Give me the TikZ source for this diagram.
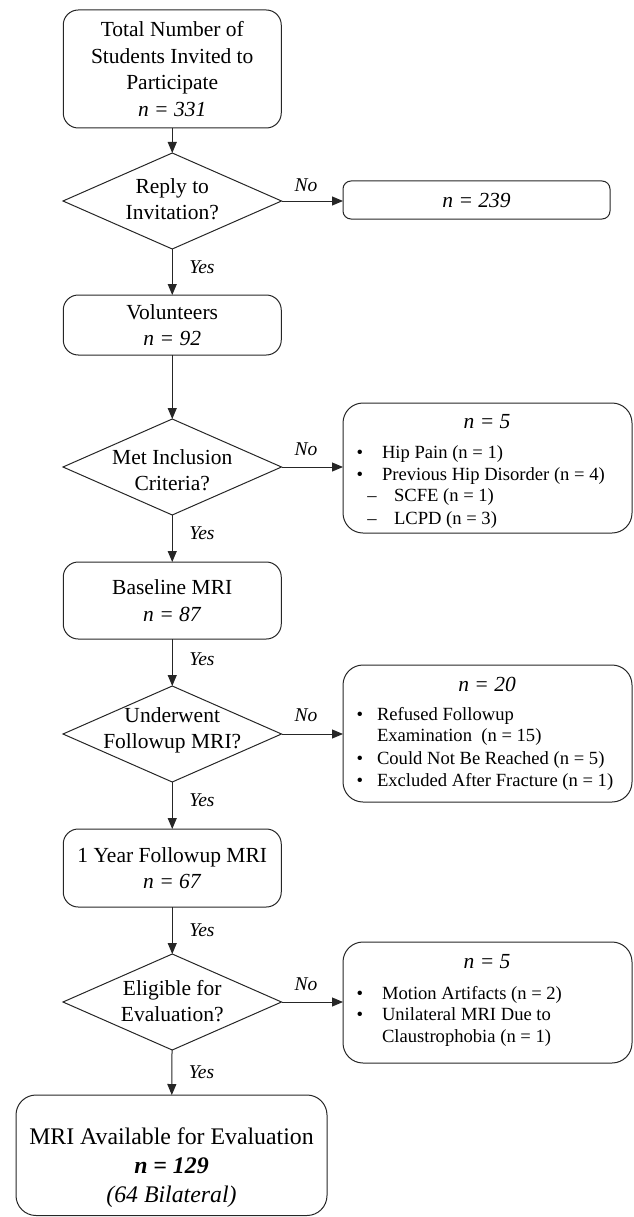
\documentclass[tikz,border=0pt]{standalone}
\usepackage{fontspec}
\setmainfont{Liberation Serif}
\usetikzlibrary{shapes.geometric,arrows.meta}
\begin{document}
\begin{tikzpicture}[x=1pt,y=-1pt,
  every node/.style={inner sep=0pt, outer sep=0pt},
  edgeline/.style={draw=black!85, line width=1pt},
  mainbox/.style={edgeline, rounded corners=15pt, minimum width=218pt, align=center, font=\fontsize{21.5}{26.5}\selectfont},
  sidebox/.style={edgeline, rounded corners=20pt, minimum width=289pt},
  decision/.style={edgeline, diamond, minimum width=218.5pt, minimum height=96pt},
  dtext/.style={align=center, font=\fontsize{21.5}{26}\selectfont},
  arr/.style={edgeline, -{Triangle[length=11pt,width=9pt]}},
  lbl/.style={font=\fontsize{19.5}{22}\selectfont\itshape},
  hdr/.style={font=\fontsize{21.5}{26}\selectfont\itshape},
  listitem/.style={anchor=mid west, font=\fontsize{18.6}{22}\selectfont},
  bul/.style={anchor=mid, font=\fontsize{18.6}{22}\selectfont},
]
\useasboundingbox (0,0) rectangle (633,1217);

% main column
\node[mainbox, minimum height=118pt] (b1) at (172.25,69) {Total Number of\\Students Invited to\\Participate\\\textit{n = 331}};
\node[decision] (d1) at (172.25,201) {};
\node[dtext] (d1t) at (172.25,199) {Reply to\\Invitation?};
\node[mainbox, minimum height=60pt] (b2) at (172.25,325) {Volunteers\\\textit{n = 92}};
\node[decision] (d2) at (172.25,467) {};
\node[dtext] (d2t) at (172.25,470) {Met Inclusion\\Criteria?};
\node[mainbox, minimum height=77pt] (b3) at (172.25,600.5) {Baseline MRI\\\textit{n = 87}};
\node[decision] (d3) at (172.25,734) {};
\node[dtext] (d3t) at (172.25,730.5) {Underwent\\Followup MRI?};
\node[mainbox, minimum height=78pt] (b4) at (172.25,868) {1 Year Followup MRI\\\textit{n = 67}};
\node[decision] (d4) at (172.25,1002) {};
\node[dtext] (d4t) at (172.25,1001) {Eligible for\\Evaluation?};
\node[edgeline, rounded corners=20pt, minimum width=311pt, minimum height=120.5pt] (b5) at (171.5,1155.25) {};
\node[align=center, font=\fontsize{23.8}{29}\selectfont] (b5t) at (171.5,1168) {MRI Available for Evaluation\\\textbf{\textit{n = 129}}\\\textit{(64 Bilateral)}};

% side boxes
\node[edgeline, rounded corners=8pt, minimum width=267pt, minimum height=38pt, font=\fontsize{21.5}{26}\selectfont\itshape] (r1) at (476.5,200) {n = 239};

\node[sidebox, minimum height=130pt] (r2) at (487.5,468) {};
\node[hdr] (r2h) at (487,422) {n = 5};
\node[bul] (r2b1) at (360,456) {•};
\node[listitem] (r2i1) at (382,456) {Hip Pain (n = 1)};
\node[bul] (r2b2) at (360,478) {•};
\node[listitem] (r2i2) at (382,478) {Previous Hip Disorder (n = 4)};
\node[bul] (r2b3) at (372,499) {–};
\node[listitem] (r2i3) at (394,499) {SCFE (n = 1)};
\node[bul] (r2b4) at (372,522) {–};
\node[listitem] (r2i4) at (394,522) {LCPD (n = 3)};

\node[sidebox, minimum height=137pt] (r3) at (487.5,733.5) {};
\node[hdr] (r3h) at (487,684) {n = 20};
\node[bul] (r3b1) at (360,718) {•};
\node[listitem] (r3i1) at (377,718) {Refused Followup};
\node[listitem] (r3i1b) at (377,739) {Examination~ (n = 15)};
\node[bul] (r3b2) at (360,762) {•};
\node[listitem] (r3i2) at (377,762) {Could Not Be Reached (n = 5)};
\node[bul] (r3b3) at (360,784) {•};
\node[listitem] (r3i3) at (377,784) {Excluded After Fracture (n = 1)};

\node[sidebox, minimum height=121pt] (r4) at (487.5,1002.5) {};
\node[hdr] (r4h) at (487,962) {n = 5};
\node[bul] (r4b1) at (360,997) {•};
\node[listitem] (r4i1) at (382,997) {Motion Artifacts (n = 2)};
\node[bul] (r4b2) at (360,1018) {•};
\node[listitem] (r4i2) at (382,1018) {Unilateral MRI Due to};
\node[listitem] (r4i2b) at (382,1040) {Claustrophobia (n = 1)};

% vertical connectors
\draw[arr] (b1) -- (d1);
\draw[arr] (d1) -- node[lbl, anchor=west, pos=0.39, xshift=17pt] {Yes} (b2);
\draw[arr] (b2) -- (d2);
\draw[arr] (d2) -- node[lbl, anchor=west, pos=0.38, xshift=17pt] {Yes} (b3);
\draw[arr] (b3) -- node[lbl, anchor=west, pos=0.43, xshift=17pt] {Yes} (d3);
\draw[arr] (d3) -- node[lbl, anchor=west, pos=0.39, xshift=17pt] {Yes} (b4);
\draw[arr] (b4) -- node[lbl, anchor=west, pos=0.49, xshift=17pt] {Yes} (d4);
\draw[arr] (d4) -- node[lbl, anchor=west, pos=0.49, xshift=17pt] {Yes} (b5);

% horizontal connectors
\draw[arr] (d1.east) -- node[lbl, anchor=base, pos=0.4, yshift=9.5pt] {No} (d1.east -| r1.west);
\draw[arr] (d2.east) -- node[lbl, anchor=base, pos=0.4, yshift=12pt] {No} (d2.east -| r2.west);
\draw[arr] (d3.east) -- node[lbl, anchor=base, pos=0.4, yshift=13pt] {No} (d3.east -| r3.west);
\draw[arr] (d4.east) -- node[lbl, anchor=base, pos=0.4, yshift=12pt] {No} (d4.east -| r4.west);
\end{tikzpicture}
\end{document}
